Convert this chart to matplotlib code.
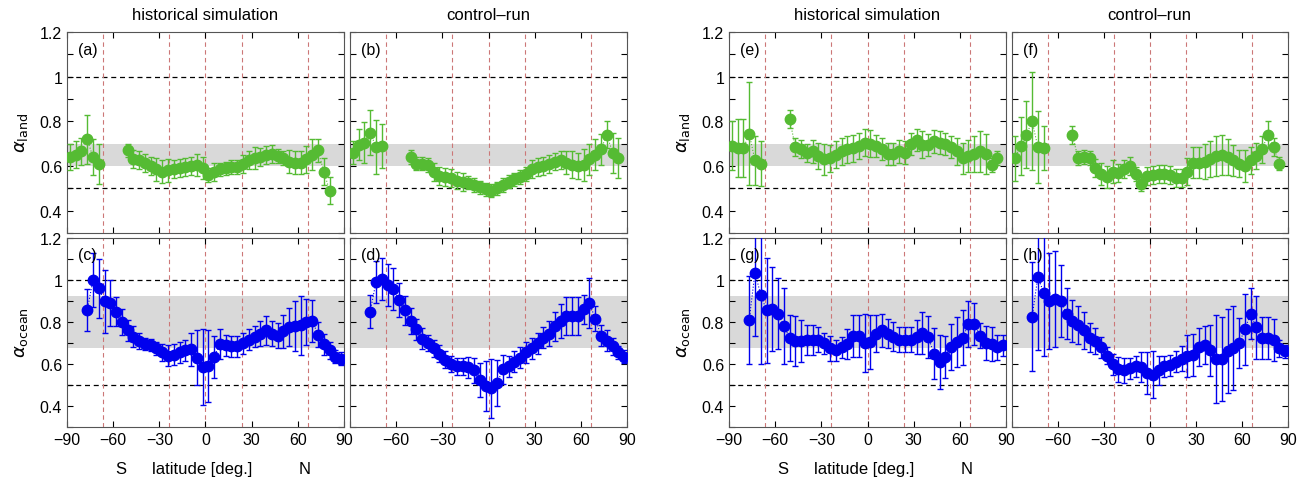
import numpy as np
import matplotlib
matplotlib.use("Agg")
import matplotlib.pyplot as plt

plt.rcParams['font.family'] = ['Liberation Sans', 'DejaVu Sans']
plt.rcParams['font.size'] = 11.5

nan = np.nan
# latitude bin centres (3.75 deg bins)
lat = -88.125 + 3.75 * np.arange(48)

# (a) land, historical
land_hist = [0.64,0.65,0.665,0.72,0.64,0.61,nan,nan,nan,nan,
             0.67,0.63,0.625,0.615,0.60,0.585,0.575,0.58,0.585,0.59,
             0.595,0.60,0.605,0.59,0.56,0.575,0.585,0.59,0.595,0.595,
             0.61,0.625,0.635,0.64,0.65,0.655,0.645,0.635,0.62,0.615,
             0.615,0.63,0.65,0.67,0.575,0.49,nan,nan]
land_hist_err = [0.06,0.06,0.06,0.11,0.08,0.09,nan,nan,nan,nan,
                 0.03,0.04,0.04,0.04,0.04,0.05,0.05,0.05,0.04,0.04,
                 0.04,0.04,0.05,0.05,0.03,0.04,0.03,0.03,0.03,0.03,
                 0.04,0.04,0.05,0.04,0.04,0.04,0.03,0.03,0.05,0.05,
                 0.05,0.06,0.07,0.05,0.06,0.06,nan,nan]
# (b) land, control
land_ctrl = [0.66,0.695,0.705,0.75,0.685,0.69,nan,nan,nan,nan,
             0.64,0.61,0.61,0.605,0.575,0.555,0.55,0.545,0.535,0.53,
             0.525,0.515,0.505,0.495,0.49,0.50,0.515,0.53,0.54,0.55,
             0.565,0.585,0.595,0.60,0.61,0.62,0.625,0.615,0.605,0.60,
             0.605,0.63,0.65,0.675,0.74,0.66,0.635,nan]
land_ctrl_err = [0.05,0.07,0.09,0.10,0.12,0.10,nan,nan,nan,nan,
                 0.03,0.03,0.03,0.03,0.04,0.04,0.04,0.04,0.04,0.04,
                 0.03,0.03,0.03,0.03,0.03,0.03,0.03,0.03,0.03,0.03,
                 0.03,0.04,0.04,0.04,0.04,0.04,0.04,0.05,0.06,0.06,
                 0.07,0.07,0.07,0.07,0.06,0.09,0.09,nan]
# (c) ocean, historical
ocean_hist = [nan,nan,nan,0.855,1.0,0.96,0.90,0.89,0.85,0.80,
              0.76,0.73,0.71,0.695,0.69,0.675,0.655,0.64,0.645,0.655,
              0.665,0.67,0.63,0.585,0.59,0.635,0.695,0.69,0.685,0.685,
              0.70,0.715,0.73,0.745,0.76,0.745,0.735,0.755,0.775,0.78,
              0.785,0.80,0.805,0.74,0.695,0.665,0.635,0.625]
ocean_hist_err = [nan,nan,nan,0.1,0.13,0.14,0.15,0.11,0.07,0.06,
                  0.05,0.05,0.04,0.03,0.03,0.03,0.04,0.05,0.05,0.05,
                  0.05,0.08,0.13,0.18,0.17,0.10,0.07,0.05,0.05,0.05,
                  0.05,0.05,0.05,0.06,0.07,0.06,0.06,0.08,0.09,0.12,
                  0.14,0.11,0.10,0.06,0.05,0.04,0.03,0.03]
# (d) ocean, control
ocean_ctrl = [nan,nan,nan,0.85,0.99,1.005,0.975,0.955,0.905,0.855,
              0.805,0.765,0.72,0.70,0.675,0.65,0.62,0.60,0.59,0.59,
              0.585,0.57,0.525,0.495,0.485,0.51,0.575,0.59,0.61,0.63,
              0.655,0.675,0.70,0.725,0.745,0.78,0.805,0.83,0.83,0.83,
              0.86,0.89,0.815,0.735,0.71,0.685,0.655,0.635]
ocean_ctrl_err = [nan,nan,nan,0.08,0.1,0.1,0.1,0.1,0.08,0.07,
                  0.06,0.05,0.05,0.04,0.04,0.04,0.04,0.04,0.04,0.04,
                  0.05,0.06,0.08,0.12,0.14,0.11,0.07,0.05,0.05,0.05,
                  0.05,0.05,0.05,0.05,0.06,0.07,0.08,0.09,0.09,0.09,
                  0.07,0.12,0.06,0.05,0.05,0.04,0.03,0.03]
# (e) land, historical (model 2)
land_hist2 = [0.69,0.68,0.68,0.745,0.625,0.61,nan,nan,nan,nan,
              0.81,0.685,0.675,0.66,0.665,0.645,0.63,0.635,0.65,0.665,
              0.675,0.68,0.69,0.705,0.70,0.69,0.675,0.655,0.655,0.665,
              0.66,0.70,0.715,0.695,0.695,0.71,0.705,0.70,0.685,0.665,
              0.635,0.645,0.655,0.665,0.655,0.605,0.635,nan]
land_hist2_err = [0.11,0.13,0.13,0.23,0.11,0.1,nan,nan,nan,nan,
                  0.04,0.04,0.04,0.04,0.05,0.06,0.07,0.06,0.06,0.06,
                  0.06,0.06,0.06,0.06,0.06,0.05,0.05,0.05,0.05,0.05,
                  0.05,0.05,0.05,0.06,0.05,0.05,0.05,0.05,0.05,0.06,
                  0.07,0.07,0.08,0.09,0.09,0.03,0.03,nan]
# (f) land, control (model 2)
land_ctrl2 = [0.635,0.69,0.74,0.80,0.685,0.68,nan,nan,nan,nan,
              0.74,0.635,0.64,0.635,0.59,0.565,0.55,0.575,0.57,0.585,
              0.60,0.565,0.52,0.555,0.56,0.565,0.565,0.56,0.545,0.545,
              0.575,0.615,0.615,0.62,0.63,0.645,0.65,0.64,0.625,0.61,
              0.60,0.625,0.645,0.675,0.74,0.685,0.61,nan]
land_ctrl2_err = [0.1,0.13,0.15,0.22,0.16,0.1,nan,nan,nan,nan,
                  0.04,0.03,0.03,0.03,0.04,0.05,0.05,0.05,0.04,0.04,
                  0.04,0.03,0.03,0.04,0.04,0.04,0.04,0.04,0.04,0.04,
                  0.06,0.07,0.07,0.08,0.08,0.09,0.09,0.08,0.07,0.06,
                  0.07,0.06,0.06,0.06,0.06,0.04,0.03,nan]
# (g) ocean, historical (model 2)
ocean_hist2 = [nan,nan,nan,0.81,1.035,0.93,0.855,0.86,0.84,0.78,
               0.725,0.71,0.71,0.715,0.715,0.715,0.70,0.675,0.665,0.68,
               0.695,0.735,0.735,0.70,0.705,0.745,0.76,0.745,0.73,0.715,
               0.715,0.715,0.73,0.75,0.73,0.65,0.61,0.635,0.68,0.705,
               0.725,0.79,0.79,0.735,0.70,0.695,0.68,0.69]
ocean_hist2_err = [nan,nan,nan,0.21,0.3,0.33,0.25,0.2,0.17,0.18,
                   0.11,0.12,0.1,0.07,0.07,0.06,0.05,0.06,0.05,0.05,
                   0.07,0.1,0.1,0.14,0.13,0.09,0.08,0.07,0.07,0.06,
                   0.06,0.06,0.08,0.1,0.1,0.12,0.13,0.1,0.11,0.12,
                   0.13,0.11,0.1,0.06,0.08,0.08,0.06,0.05]
# (h) ocean, control (model 2)
ocean_ctrl2 = [nan,nan,nan,0.825,1.015,0.94,0.90,0.91,0.90,0.84,
               0.805,0.785,0.76,0.725,0.71,0.68,0.64,0.60,0.575,0.57,
               0.58,0.59,0.585,0.555,0.55,0.57,0.59,0.595,0.61,0.625,
               0.64,0.645,0.68,0.69,0.665,0.625,0.625,0.66,0.675,0.70,
               0.765,0.84,0.775,0.725,0.725,0.715,0.675,0.66]
ocean_ctrl2_err = [nan,nan,nan,0.26,0.35,0.3,0.23,0.23,0.17,0.12,
                   0.1,0.09,0.09,0.07,0.06,0.05,0.04,0.05,0.06,0.06,
                   0.05,0.05,0.07,0.1,0.11,0.07,0.05,0.05,0.05,0.06,
                   0.1,0.1,0.09,0.09,0.12,0.21,0.2,0.2,0.2,0.12,
                   0.17,0.12,0.15,0.1,0.1,0.1,0.04,0.03]

land_band = (0.6, 0.7)
ocean_band = (0.675, 0.925)
ref_lats = [-66.5, -23.5, 0, 23.5, 66.5]

green = '#55bb33'
blue = '#0000ee'

W, H = 1304, 489
fig = plt.figure(figsize=(W / 100, H / 100), dpi=100)

def add_ax(x0, x1, y0, y1):
    return fig.add_axes([x0 / W, 1 - y1 / H, (x1 - x0) / W, (y1 - y0) / H])

panels = [
    ('(a)', land_hist, land_hist_err, green, land_band, 67, 344, 33, 234, True),
    ('(b)', land_ctrl, land_ctrl_err, green, land_band, 350, 627, 33, 234, False),
    ('(c)', ocean_hist, ocean_hist_err, blue, ocean_band, 67, 344, 239, 428, True),
    ('(d)', ocean_ctrl, ocean_ctrl_err, blue, ocean_band, 350, 627, 239, 428, False),
    ('(e)', land_hist2, land_hist2_err, green, land_band, 729, 1006, 33, 234, True),
    ('(f)', land_ctrl2, land_ctrl2_err, green, land_band, 1012, 1288, 33, 234, False),
    ('(g)', ocean_hist2, ocean_hist2_err, blue, ocean_band, 729, 1006, 239, 428, True),
    ('(h)', ocean_ctrl2, ocean_ctrl2_err, blue, ocean_band, 1012, 1288, 239, 428, False),
]

for lab, y, e, col, band, x0, x1, y0, y1, left in panels:
    ax = add_ax(x0, x1, y0, y1)
    ax.axhspan(band[0], band[1], color='#d9d9d9', lw=0, zorder=0)
    for h in (0.5, 1.0):
        ax.axhline(h, color='black', ls=(0, (4, 3)), lw=0.9, zorder=1)
    for v in ref_lats:
        ax.axvline(v, color='#cc7777', ls=(0, (4, 3)), lw=0.8, zorder=1)
    ax.errorbar(lat, y, yerr=e, fmt='o', color=col, ms=7.5, ecolor=col,
                elinewidth=1.0, capsize=2, capthick=1.0, zorder=3)
    ax.plot(lat, y, ls=':', color=col, lw=0.8, zorder=2)
    ax.set_xlim(-90, 90)
    ax.set_ylim(0.3, 1.2)
    ax.set_xticks(np.arange(-90, 91, 30))
    ax.set_yticks(np.arange(0.3, 1.21, 0.1))
    ax.tick_params(direction='in', top=True, right=True, length=4, labelsize=11.5)
    if left:
        ax.set_yticklabels(['', '0.4', '', '0.6', '', '0.8', '', '1', '', '1.2'])
    else:
        ax.set_yticklabels([])
    if y0 > 200:
        xl = ['\u221290', '\u221260', '\u221230', '0', '30', '60', '90']
        if not left:
            xl[0] = ''
        ax.set_xticklabels(xl)
    else:
        ax.set_xticklabels([])
    for s in ax.spines.values():
        s.set_color('#555555')
    ax.text(0.04, 0.95, lab, transform=ax.transAxes, ha='left', va='top', fontsize=11.5)

for gx0, gx1 in ((67, 627), (729, 1288)):
    mid_a = (gx0 + (gx0 + gx1) / 2 - 3) / 2
    mid_b = ((gx0 + gx1) / 2 + 3 + gx1) / 2
    fig.text(mid_a / W, 1 - 16 / H, 'historical simulation', ha='center', va='center', fontsize=12)
    fig.text(mid_b / W, 1 - 16 / H, 'control\u2013run', ha='center', va='center', fontsize=12)
    fig.text((gx0 + 54) / W, 1 - 470 / H, 'S', ha='center', va='center', fontsize=12)
    fig.text((gx0 + 135) / W, 1 - 470 / H, 'latitude [deg.]', ha='center', va='center', fontsize=12)
    fig.text((gx0 + 238) / W, 1 - 470 / H, 'N', ha='center', va='center', fontsize=12)
    fig.text((gx0 - 45) / W, 1 - 133 / H, r'$\alpha_{\rm land}$', rotation=90, ha='center', va='center', fontsize=13)
    fig.text((gx0 - 45) / W, 1 - 333 / H, r'$\alpha_{\rm ocean}$', rotation=90, ha='center', va='center', fontsize=13)

fig.savefig('out.png', dpi=100)
